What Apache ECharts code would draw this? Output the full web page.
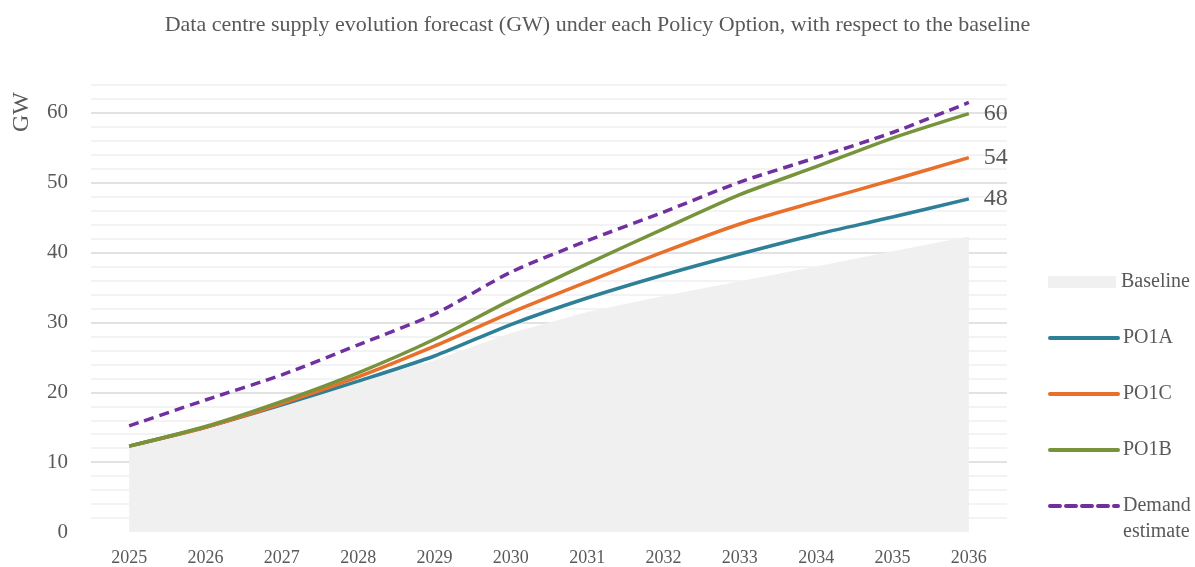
<!DOCTYPE html>
<html>
<head>
<meta charset="utf-8">
<script src="https://cdn.jsdelivr.net/npm/echarts@6/dist/echarts.min.js"></script>
<style>
  html, body { margin: 0; padding: 0; background: #fff; }
  #chart { width: 1195px; height: 567px; }
</style>
</head>
<body>
<div id="chart"></div>
<script>
  // data (GW)
  const years = ['2025', '2026', '2027', '2028', '2029', '2030', '2031', '2032', '2033', '2034', '2035', '2036'];
  const baseline = [12.3, 15.0, 18.0, 21.5, 24.6, 28.5, 31.5, 33.8, 35.9, 38.0, 40.2, 42.3];
  const po1a = [12.3, 15.0, 18.2, 21.6, 25.2, 29.7, 33.5, 36.8, 39.8, 42.6, 45.1, 47.7];
  const po1c = [12.3, 15.0, 18.4, 22.2, 26.6, 31.4, 35.8, 40.1, 44.1, 47.3, 50.4, 53.6];
  const po1b = [12.3, 15.1, 18.7, 22.8, 27.6, 33.2, 38.4, 43.4, 48.3, 52.3, 56.4, 59.9];
  const demand = [15.2, 18.9, 22.5, 26.8, 31.2, 37.2, 41.7, 45.8, 50.1, 53.6, 57.2, 61.5];

  const font = '"Liberation Serif", "DejaVu Serif", serif';
  const grey = '#595959';

  // gridlines every 2 GW, darker every 10, none at 0
  const gridColors = [];
  for (let v = 0; v <= 64; v += 2) {
    gridColors.push(v === 0 ? 'rgba(0,0,0,0)' : (v % 10 === 0 ? '#d9d9d9' : '#efefef'));
  }

  const chart = echarts.init(document.getElementById('chart'));

  function lineSeries(name, data, color, dashed, endLabel) {
    return {
      name: name,
      type: 'line',
      data: data,
      symbol: 'none',
      smooth: 0.25,
      color: color,
      lineStyle: { width: 3.5, color: color, type: dashed ? [10, 6] : 'solid' },
      endLabel: {
        show: endLabel,
        formatter: p => Math.round(p.value),
        color: grey,
        fontFamily: font,
        fontSize: 24,
        distance: 15
      },
      z: 3
    };
  }

  // one legend per entry so each row sits where the reference has it
  function legendAt(name, top, extra) {
    return Object.assign({
      left: 1048,
      top: top,
      padding: 0,
      itemWidth: 68,
      itemHeight: 4,
      selectedMode: false,
      lineStyle: { width: 4, cap: 'round' },
      textStyle: { color: grey, fontFamily: font, fontSize: 20, lineHeight: 24 },
      data: [name]
    }, extra || {});
  }

  const option = {
    animation: false,
    title: {
      text: 'Data centre supply evolution forecast (GW) under each Policy Option, with respect to the baseline',
      left: 'center',
      top: 9,
      textStyle: { color: grey, fontFamily: font, fontSize: 22, fontWeight: 'normal' }
    },
    graphic: [{
      type: 'text',
      x: 22,
      y: 112,
      rotation: Math.PI / 2,
      style: {
        text: 'GW',
        fill: grey,
        font: '24px ' + font,
        align: 'center',
        verticalAlign: 'middle'
      }
    }],
    legend: [
      legendAt('Baseline', 270, { itemHeight: 12, data: [{ name: 'Baseline', icon: 'rect' }] }),
      legendAt('PO1A', 326),
      legendAt('PO1C', 382),
      legendAt('PO1B', 438),
      // blank first line keeps "Demand" level with the icon, "estimate" below it
      legendAt('Demand estimate', 467, {
        formatter: () => '\nDemand\nestimate',
        textStyle: { color: grey, fontFamily: font, fontSize: 20, lineHeight: 26 }
      })
    ],
    grid: { left: 91, right: 188, top: 85, bottom: 35, outerBoundsMode: 'none' },
    xAxis: {
      type: 'category',
      data: years,
      boundaryGap: true,
      axisLine: { show: false },
      axisTick: { show: false },
      axisLabel: { color: grey, fontFamily: font, fontSize: 18, margin: 17 }
    },
    yAxis: {
      type: 'value',
      min: 0,
      max: 64,
      interval: 2,
      axisLine: { show: false },
      axisTick: { show: false },
      axisLabel: {
        color: grey,
        fontFamily: font,
        fontSize: 21,
        margin: 23,
        formatter: v => (v % 10 === 0 ? v : '')
      },
      splitLine: { show: true, lineStyle: { color: gridColors, width: 1.5 } }
    },
    series: [
      {
        name: 'Baseline',
        type: 'line',
        data: baseline,
        symbol: 'none',
        color: '#f0f0f0',
        lineStyle: { width: 0 },
        areaStyle: { color: '#f0f0f0', opacity: 1 },
        z: 1
      },
      lineSeries('PO1A', po1a, '#2e7f98', false, true),
      lineSeries('PO1C', po1c, '#e8702a', false, true),
      lineSeries('PO1B', po1b, '#77933c', false, true),
      lineSeries('Demand estimate', demand, '#7030a0', true, false)
    ]
  };

  chart.setOption(option);
</script>
</body>
</html>
